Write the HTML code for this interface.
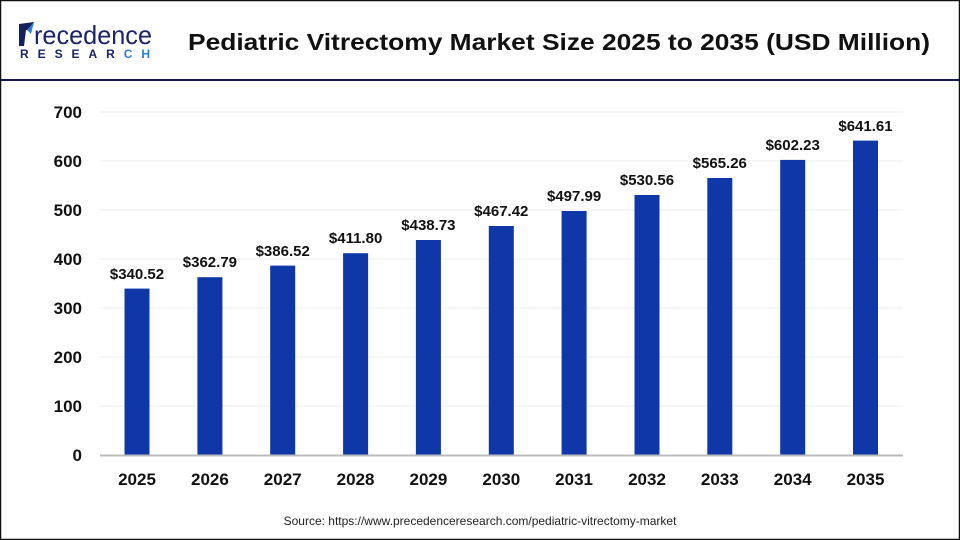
<!DOCTYPE html>
<html><head><meta charset="utf-8"><style>
body{margin:0;background:#fff}
svg{display:block;font-family:"Liberation Sans",Arial,sans-serif}
</style></head><body>
<svg width="960" height="540" viewBox="0 0 960 540">
<rect x="0.5" y="0.5" width="959" height="539" fill="#fff" stroke="#111" stroke-width="1.5"/>
<line x1="1" y1="80" x2="959" y2="80" stroke="#141a4a" stroke-width="2"/>
<path d="M19 24 L34 22 L30 30 L26 30 L24 46 L19 46 Z" fill="#16205a"/>
<path d="M27 30 L34 22 L31 34 Z" fill="#2f7fd8"/>
<text x="34" y="44" font-size="26" fill="#1a2466" textLength="118" lengthAdjust="spacingAndGlyphs">recedence</text>
<text x="20" y="58" font-size="12" font-weight="bold" fill="#1a2466" textLength="130" lengthAdjust="spacing">RESEAR<tspan fill="#2f7fd8">CH</tspan></text>
<text x="188" y="50" font-size="23" font-weight="bold" fill="#111" textLength="742" lengthAdjust="spacingAndGlyphs">Pediatric Vitrectomy Market Size 2025 to 2035 (USD Million)</text>
<g stroke="#ececec" stroke-width="1">
<line x1="100" x2="903" y1="112" y2="112"/><line x1="100" x2="903" y1="161" y2="161"/><line x1="100" x2="903" y1="210" y2="210"/><line x1="100" x2="903" y1="259" y2="259"/><line x1="100" x2="903" y1="308" y2="308"/><line x1="100" x2="903" y1="357" y2="357"/><line x1="100" x2="903" y1="406" y2="406"/>
</g>
<g font-size="17" font-weight="bold" fill="#111" text-anchor="end">
<text x="82" y="118">700</text><text x="82" y="167">600</text><text x="82" y="216">500</text><text x="82" y="265">400</text><text x="82" y="314">300</text><text x="82" y="363">200</text><text x="82" y="412">100</text><text x="82" y="461">0</text>
</g>
<g fill="#0f37a8">
<rect x="124.5" y="288.6" width="25" height="166.4"/>
<rect x="197.4" y="277.2" width="25" height="177.8"/>
<rect x="270.2" y="265.6" width="25" height="189.4"/>
<rect x="343.1" y="253.2" width="25" height="201.8"/>
<rect x="415.9" y="240" width="25" height="215"/>
<rect x="488.8" y="226" width="25" height="229"/>
<rect x="561.6" y="211" width="25" height="244"/>
<rect x="634.5" y="195" width="25" height="260"/>
<rect x="707.3" y="178" width="25" height="277"/>
<rect x="780.2" y="159.9" width="25" height="295.1"/>
<rect x="853" y="140.6" width="25" height="314.4"/>
</g>
<line x1="100" x2="903" y1="455.5" y2="455.5" stroke="#bbb" stroke-width="2"/>
<g font-size="15" font-weight="bold" fill="#111" text-anchor="middle">
<text x="137" y="279">$340.52</text><text x="209.9" y="267">$362.79</text><text x="282.7" y="256">$386.52</text><text x="355.6" y="243">$411.80</text><text x="428.4" y="230">$438.73</text><text x="501.3" y="216">$467.42</text><text x="574.1" y="201">$497.99</text><text x="647" y="185">$530.56</text><text x="719.8" y="168">$565.26</text><text x="792.7" y="150">$602.23</text><text x="865.5" y="131">$641.61</text>
</g>
<g font-size="17" font-weight="bold" fill="#111" text-anchor="middle">
<text x="137" y="485">2025</text><text x="209.9" y="485">2026</text><text x="282.7" y="485">2027</text><text x="355.6" y="485">2028</text><text x="428.4" y="485">2029</text><text x="501.3" y="485">2030</text><text x="574.1" y="485">2031</text><text x="647" y="485">2032</text><text x="719.8" y="485">2033</text><text x="792.7" y="485">2034</text><text x="865.5" y="485">2035</text>
</g>
<text x="480" y="525" font-size="12" fill="#222" text-anchor="middle">Source: https://www.precedenceresearch.com/pediatric-vitrectomy-market</text>
</svg>
</body></html>
